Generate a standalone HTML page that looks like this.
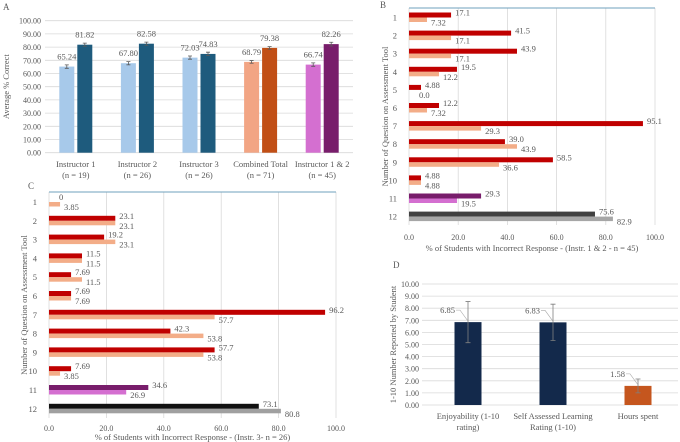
<!DOCTYPE html>
<html><head><meta charset="utf-8">
<style>
html,body{margin:0;padding:0;background:#fff;}
svg{display:block;font-family:"Liberation Serif",serif;}
</style></head>
<body>
<svg id="fig" width="680" height="442" viewBox="0 0 680 442" xmlns="http://www.w3.org/2000/svg"></svg>
<script>
// Panel A data
const aCategories = ["Instructor 1|(n = 19)","Instructor 2|(n = 26)","Instructor 3|(n = 26)","Combined Total|(n = 71)","Instructor 1 & 2|(n = 45)"];
const aPre = [65.24, 67.80, 72.03, 68.79, 66.74];
const aPost = [81.82, 82.58, 74.83, 79.38, 82.26];
const aErrPre = [1.3, 1.2, 1.2, 1.0, 1.3];
const aErrPost = [1.2, 1.2, 1.3, 1.0, 1.4];
const aTicks = [0,10,20,30,40,50,60,70,80,90,100];
// Panel B data
const bQuestions = [1,2,3,4,5,6,7,8,9,10,11,12];
const bSeriesTop = [17.1,41.5,43.9,19.5,4.88,12.2,95.1,39.0,58.5,4.88,29.3,75.6];
const bSeriesBottom = [7.32,17.1,17.1,12.2,0.0,7.32,29.3,43.9,36.6,4.88,19.5,82.9];
const bLabelsTop = ["17.1","41.5","43.9","19.5","4.88","12.2","95.1","39.0","58.5","4.88","29.3","75.6"];
const bLabelsBottom = ["7.32","17.1","17.1","12.2","0.0","7.32","29.3","43.9","36.6","4.88","19.5","82.9"];
// Panel C data
const cQuestions = [1,2,3,4,5,6,7,8,9,10,11,12];
const cSeriesTop = [0,23.1,19.2,11.5,7.69,7.69,96.2,42.3,57.7,7.69,34.6,73.1];
const cSeriesBottom = [3.85,23.1,23.1,11.5,11.5,7.69,57.7,53.8,53.8,3.85,26.9,80.8];
const cLabelsTop = ["0","23.1","19.2","11.5","7.69","7.69","96.2","42.3","57.7","7.69","34.6","73.1"];
const cLabelsBottom = ["3.85","23.1","23.1","11.5","11.5","7.69","57.7","53.8","53.8","3.85","26.9","80.8"];
const xTicks = [0,20,40,60,80,100];
// Panel D data
const dCategories = ["Enjoyability (1-10|rating)","Self Assessed Learning|Rating (1-10)","Hours spent"];
const dValues = [6.85, 6.83, 1.58];
const dErrLow = [5.15, 5.33, 1.0];
const dErrHigh = [8.55, 8.33, 2.15];
const dTicks = [0,1,2,3,4,5,6,7,8,9,10];

const NS="http://www.w3.org/2000/svg";
const svg=document.getElementById('fig');
function mk(tag,attrs,parent){const e=document.createElementNS(NS,tag);for(const k in attrs)e.setAttribute(k,attrs[k]);(parent||svg).appendChild(e);return e;}
function txt(x,y,s,attrs,parent){const e=mk('text',Object.assign({x:x,y:y,fill:'#595959','font-size':8.5},attrs||{}),parent);e.textContent=s;return e;}

// ===== Panel A =====
const gA=mk('g',{});


const aL=45,aR=353,aT=20.7,aB=152.7;
const aY=v=>aB-(v/100)*(aB-aT);
const aBand=(aR-aL)/aCategories.length;
let t=txt(3,10,'A',{'font-size':9});

aTicks.forEach(v=>{
  const l=mk('line',{x1:aL,x2:aR,y1:aY(v),y2:aY(v),stroke:'#d9d9d9','stroke-width':0.8},gA);
  
  const tt=txt(aL-4,aY(v)+3,v.toFixed(2),{'text-anchor':'end','font-size':8},gA);
  
});
const aColors=[['#a7c9ea','#1e5b7d'],['#a7c9ea','#1e5b7d'],['#a7c9ea','#1e5b7d'],['#f2a584','#c14f16'],['#d46fd0','#781d6b']];
aCategories.forEach((c,i)=>{
  const cx=aL+aBand*(i+0.5);
  [[aPre[i],aErrPre[i],cx-16.5],[aPost[i],aErrPost[i],cx+1.5]].forEach((p,j)=>{
    const r=mk('rect',{x:p[2],y:aY(p[0]),width:15,height:aB-aY(p[0]),fill:aColors[i][j]},gA);
    
    const mx=p[2]+7.5;
    const e=mk('path',{d:`M${mx},${aY(p[0]+p[1])}V${aY(p[0]-p[1])}M${mx-2},${aY(p[0]+p[1])}h4M${mx-2},${aY(p[0]-p[1])}h4`,stroke:'#595959','stroke-width':0.8,fill:'none'},gA);
    
    const lb=txt(mx,aY(p[0])-7,p[0].toFixed(2),{'text-anchor':'middle','font-size':8.5},gA);
    
  });
  const parts=c.split('|');
  const l1=txt(cx,167,parts[0],{'text-anchor':'middle','font-size':8.5},gA);
  
  const l2=txt(cx,178,parts[1],{'text-anchor':'middle','font-size':8.5},gA);
  
});
t=txt(0,0,'Average % Correct',{'text-anchor':'middle','font-size':8.5,transform:`translate(9,${(aT+aB)/2}) rotate(-90)`},gA);


// ===== horizontal bar panels =====
function hpanel(opt){
  const g=mk('g',{});
  
  
  const X=v=>opt.L+(v/100)*(opt.R-opt.L);
  xTicks.forEach(v=>{
    const l=mk('line',{x1:X(v),x2:X(v),y1:opt.T,y2:opt.B,stroke:'#d9d9d9','stroke-width':0.8},g);
    
    const tt=txt(X(v),opt.tickY,v.toFixed(1),{'text-anchor':'middle','font-size':8},g);
    
  });
  const top=mk('line',{x1:opt.L,x2:opt.R,y1:opt.T,y2:opt.T,stroke:'#6fa1bd','stroke-width':1},g);
  
  opt.q.forEach((q,i)=>{
    const cy=opt.y0+opt.step*i;
    let c1='#c00000',c2='#f3ad88';
    if(i===10){c1='#781d6b';c2='#d46fd0';}
    if(i===11){c1=opt.dark;c2=opt.gray;}
    const r1=mk('rect',{x:opt.L,y:cy-5,width:X(opt.top[i])-opt.L,height:5,fill:c1},g);
    
    const r2=mk('rect',{x:opt.L,y:cy,width:X(opt.bot[i])-opt.L,height:4.5,fill:c2},g);
    
    const a=txt(Math.max(X(opt.top[i]),opt.L+6)+4,cy-2,opt.lt[i],{'font-size':8.5},g);
    
    const b=txt(Math.max(X(opt.bot[i]),opt.L+6)+4,cy+8,opt.lb[i],{'font-size':8.5},g);
    
    const ql=txt(opt.L-12,cy+3,String(q),{'text-anchor':'end','font-size':8.5},g);
    
  });
  const xt=txt((opt.L+opt.R)/2,opt.titleY,opt.xtitle,{'text-anchor':'middle','font-size':8.5},g);
  
  const yt=txt(0,0,'Number of Question on Assessment Tool',{'text-anchor':'middle','font-size':8.5,transform:`translate(${opt.ytX},${(opt.T+opt.B)/2}) rotate(-90)`},g);
  
}
t=txt(380,8,'B',{'font-size':9});
hpanel({name:'panel-b-chart',L:409,R:655,T:8,B:225,y0:17.5,step:18.1,tickY:240,titleY:251,ytX:388,q:bQuestions,top:bSeriesTop,bot:bSeriesBottom,lt:bLabelsTop,lb:bLabelsBottom,dark:'#404040',gray:'#a6a6a6',xtitle:'% of Students with Incorrect Response - (Instr. 1 & 2 - n = 45)'});
t=txt(28,189,'C',{'font-size':9});
hpanel({name:'panel-c-chart',L:49,R:336,T:192,B:418,y0:202,step:18.8,tickY:431,titleY:440,ytX:27,q:cQuestions,top:cSeriesTop,bot:cSeriesBottom,lt:cLabelsTop,lb:cLabelsBottom,dark:'#111111',gray:'#a0a0a0',xtitle:'% of Students with Incorrect Response - (Instr. 3-  n = 26)'});

// ===== Panel D =====
const gD=mk('g',{});


const dL=422,dR=678,dT=284,dB=405,dBandStart=425.5,dBand=85;
const dY=v=>dB-(v/10)*(dB-dT);
t=txt(393,268,'D',{'font-size':9});
dTicks.forEach(v=>{
  const l=mk('line',{x1:dL,x2:dR,y1:dY(v),y2:dY(v),stroke:'#d9d9d9','stroke-width':0.8},gD);
  
  const tt=txt(dL-3,dY(v)+3,v.toFixed(2),{'text-anchor':'end','font-size':8},gD);
  
});
const dColors=['#13294b','#13294b','#c5561e'];
dCategories.forEach((c,i)=>{
  const cx=dBandStart+dBand*(i+0.5);
  const r=mk('rect',{x:cx-13.5,y:dY(dValues[i]),width:27,height:dB-dY(dValues[i]),fill:dColors[i]},gD);
  
  const e=mk('path',{d:`M${cx},${dY(dErrHigh[i])}V${dY(dErrLow[i])}M${cx-2.5},${dY(dErrHigh[i])}h5M${cx-2.5},${dY(dErrLow[i])}h5`,stroke:'#7f7f7f','stroke-width':0.8,fill:'none'},gD);
  
  const ly=dY(dValues[i])-9;
  const ld=mk('path',{d:`M${cx-12},${ly-3}h4L${cx},${dY(dValues[i])-1}`,stroke:'#a6a6a6','stroke-width':0.6,fill:'none'},gD);
  
  const lb=txt(cx-13,ly,dValues[i].toFixed(2),{'text-anchor':'end','font-size':8.5},gD);
  
  const parts=c.split('|');
  parts.forEach((p,k)=>{
    const cl=txt(cx,419+k*11,p,{'text-anchor':'middle','font-size':8.5},gD);
    
  });
});
t=txt(0,0,'1-10 Number Reported by Student',{'text-anchor':'middle','font-size':8.5,transform:`translate(396,${(dT+dB)/2}) rotate(-90)`},gD);

</script>
</body></html>
